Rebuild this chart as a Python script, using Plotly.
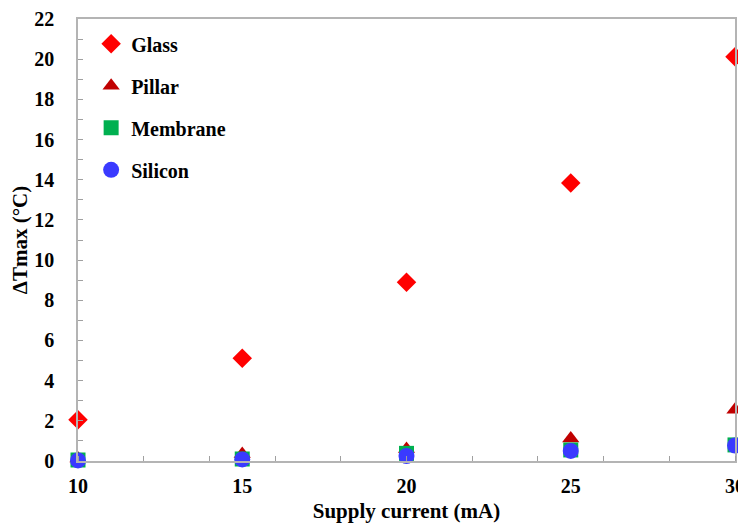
import plotly.graph_objects as go

current = [10, 15, 20, 25, 30]
glass = [2.05, 5.12, 8.9, 13.84, 20.12]
pillar = [0.12, 0.35, 0.6, 1.12, 2.55]
membrane = [0.05, 0.1, 0.38, 0.55, 0.8]
silicon = [0.03, 0.08, 0.25, 0.5, 0.77]

x_ticks = [10, 15, 20, 25, 30]
y_ticks = list(range(0, 23, 2))

series = [
    ("Glass", glass, "diamond", "#ff0000", 15),
    ("Pillar", pillar, "triangle-up", "#c00000", 15),
    ("Membrane", membrane, "square", "#00b050", 15),
    ("Silicon", silicon, "circle", "#3a3aff", 16),
]

fig = go.Figure()
for i, (name, vals, sym, col, sz) in enumerate(series):
    fig.add_trace(go.Scatter(
        x=current, y=vals, mode="markers", name=name,
        legendgroup=f"g{i}",
        marker=dict(symbol=sym, color=col, size=sz, line=dict(width=0)),
        cliponaxis=False,
    ))

font_family = "Liberation Serif, Times New Roman, serif"

# page body has an 8px margin, so the figure is sized/offset to compensate
fig.update_layout(
    width=738, height=515,
    margin=dict(l=70, r=11, t=11, b=62, autoexpand=False),
    paper_bgcolor="white", plot_bgcolor="white",
    font=dict(family=font_family, size=20, color="black"),
    showlegend=True,
    legend=dict(
        x=0.02, y=0.988, xanchor="left", yanchor="top",
        font=dict(family=font_family, size=20, color="black", weight="bold"),
        tracegroupgap=13, itemwidth=30, bgcolor="rgba(0,0,0,0)",
    ),
    xaxis=dict(
        range=[10, 30], tickvals=x_ticks, ticktext=[f"<b>{v}</b>" for v in x_ticks],
        ticks="", showgrid=False, zeroline=False, automargin=True,
        showline=True, linecolor="#b4b4b4", linewidth=1.5, mirror=True,
        ticklabelstandoff=6, ticklabeloverflow="allow",
        minor=dict(dtick=2, tick0=10, ticks="inside", ticklen=5, tickcolor="#a0a0a0", tickwidth=1.2, showgrid=False),
        title=dict(text="<b>Supply current (mA)</b>", font=dict(size=21), standoff=16),
    ),
    yaxis=dict(
        range=[0, 22], tickvals=y_ticks, ticktext=[f"<b>{v}</b>" for v in y_ticks],
        ticks="inside", ticklen=5, tickcolor="#a0a0a0", tickwidth=1.2,
        showgrid=False, zeroline=False, automargin=True,
        showline=True, linecolor="#b4b4b4", linewidth=1.5, mirror=True,
        ticklabelstandoff=18,
        minor=dict(dtick=1, tick0=0, ticks="inside", ticklen=5, tickcolor="#a0a0a0", tickwidth=1.2, showgrid=False),
        title=dict(text="<b>ΔTmax (°C)</b>", font=dict(size=21), standoff=6),
    ),
)

fig.write_html("out.html")
